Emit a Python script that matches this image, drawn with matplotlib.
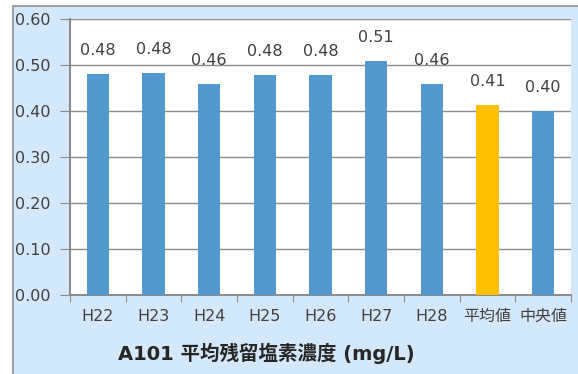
import matplotlib
matplotlib.use("Agg")
import matplotlib.pyplot as plt
from matplotlib.patches import Rectangle

plt.rcParams['font.family'] = ['DejaVu Sans', 'Noto Sans CJK JP']

# data
categories = ["H22", "H23", "H24", "H25", "H26", "H27", "H28", "平均値", "中央値"]
values = [0.480, 0.482, 0.459, 0.478, 0.478, 0.509, 0.459, 0.413, 0.400]
labels = ["0.48", "0.48", "0.46", "0.48", "0.48", "0.51", "0.46", "0.41", "0.40"]
colors = ["#5299cf"] * 7 + ["#ffc000", "#5299cf"]
yticks = [0.0, 0.1, 0.2, 0.3, 0.4, 0.5, 0.6]
title = "A101 平均残留塩素濃度 (mg/L)"

W, H = 578, 374
fig = plt.figure(figsize=(W / 100, H / 100), dpi=100)
fig.patch.set_facecolor("white")

# light blue chart area with grey border (cropped on right/bottom)
bg = Rectangle((13 / W, -0.1), 1.0, 1.1 - 6 / H, transform=fig.transFigure,
               facecolor="#d4e8fb", edgecolor="#8c8c8c", linewidth=1.2, zorder=-5)
fig.patches.append(bg)

ax = fig.add_axes([70 / W, 1 - 295 / H, (571 - 70) / W, (295 - 19) / H])
ax.set_zorder(1)
ax.set_facecolor("white")

x = range(len(categories))
ax.bar(x, values, width=0.4, color=colors, zorder=3)
for i, (v, lab) in enumerate(zip(values, labels)):
    ax.annotate(lab, (i, v), xytext=(0, 17), textcoords="offset points",
                ha="center", va="center", fontsize=11.5, color="#404040")

ax.set_xlim(-0.5, len(categories) - 0.5)
ax.set_ylim(0, 0.6)
ax.set_yticks(yticks)
ax.set_yticklabels([f"{t:.2f}" for t in yticks], fontsize=11.5, color="#404040")
ax.yaxis.grid(True, color="#8c8c8c", linewidth=1.0, zorder=0)
ax.set_axisbelow(True)

# category ticks at boundaries, labels at centres
ax.set_xticks([i - 0.5 for i in range(len(categories) + 1)])
ax.set_xticklabels([])
ax.set_xticks(list(x), minor=True)
ax.set_xticklabels(categories, minor=True, fontsize=11.5, color="#404040")
ax.tick_params(axis="x", which="major", length=5, color="#8c8c8c", direction="out")
ax.tick_params(axis="x", which="minor", length=0, pad=10)
ax.tick_params(axis="y", length=7, color="#8c8c8c", pad=7)

for s in ["top", "right"]:
    ax.spines[s].set_visible(False)
for s in ["left", "bottom"]:
    ax.spines[s].set_color("#8c8c8c")
    ax.spines[s].set_linewidth(1.5)

fig.text(266 / W, 1 - 353 / H, title, ha="center", va="center",
         fontsize=14, fontweight="bold", color="#262626")

fig.savefig("out.png", dpi=100)
